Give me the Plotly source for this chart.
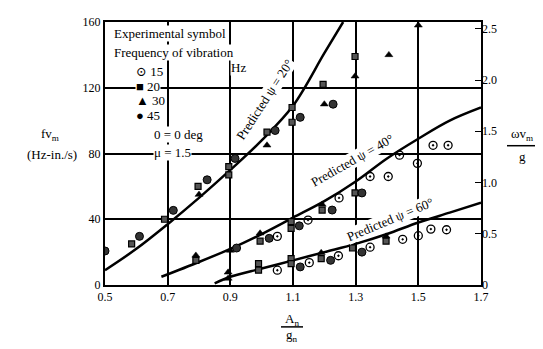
import plotly.graph_objects as go

# Predicted curves
psi20_x = [0.5, 0.6, 0.7, 0.8, 0.9, 1.0, 1.1, 1.2, 1.26]
psi20_y = [9, 22, 37, 53, 70, 88, 109, 141, 160]
psi40_x = [0.68, 0.8, 0.9, 1.0, 1.1, 1.2, 1.3, 1.4, 1.5, 1.6, 1.7]
psi40_y = [5, 14, 22, 31, 41, 51, 63, 77, 89, 100, 108]
psi60_x = [0.85, 0.9, 1.0, 1.1, 1.2, 1.3, 1.4, 1.5, 1.6, 1.7]
psi60_y = [1, 5, 10, 15, 20, 25, 31, 38, 44, 50]

# Experimental points
hz15_x = [1.05, 1.148, 1.247, 1.346, 1.404, 1.44, 1.497, 1.547, 1.595,
          1.05, 1.152, 1.245, 1.346, 1.45, 1.5, 1.54, 1.59]
hz15_y = [29.6, 39.5, 53, 66, 66, 79, 74, 85, 85,
          9, 13.6, 17.8, 23, 27.8, 30, 34, 33.6]
hz20_x = [0.585, 0.69, 0.797, 0.895, 0.895, 1.017, 1.097, 1.097, 1.196, 1.298,
          0.79, 0.995, 1.094, 1.094, 1.193, 1.298,
          0.99, 0.99, 1.094, 1.094, 1.19, 1.29, 1.397]
hz20_y = [25, 40, 60, 72, 67, 93, 108, 99, 122, 139,
          15, 26.7, 38.5, 34.5, 45.6, 56,
          13, 9, 16, 13, 16, 22.5, 26.7]
hz30_x = [0.80, 1.017, 1.2, 1.298, 1.406, 1.5,
          0.79, 0.9, 0.995, 1.193,
          0.893, 0.893, 1.19, 1.397]
hz30_y = [55, 85, 110, 127, 140, 158,
          18, 21, 31.5, 49,
          7.7, 4, 19.6, 29.6]
hz45_x = [0.5, 0.61, 0.718, 0.826, 0.915, 1.043, 1.123, 1.228,
          0.92, 1.024, 1.12, 1.225, 1.32,
          1.123, 1.22, 1.32]
hz45_y = [20.7, 29.6, 45.4, 64, 77, 94, 102, 110,
          22.5, 28.4, 36, 45.6, 56,
          11, 15, 20]

x_ticks = [0.5, 0.7, 0.9, 1.1, 1.3, 1.5, 1.7]
y_ticks = [0, 40, 80, 120, 160]
y2_ticks = [0, 0.5, 1.0, 1.5, 2.0, 2.5]
y2_labels = ["0", "0.5", "1.0", "1.5", "2.0", "2.5"]
legend_labels = ["15", "20", "30", "45"]
legend_glyphs = ["⊙", "■", "▲", "●"]

FONT = "Liberation Serif, Times New Roman, DejaVu Serif, serif"
fig = go.Figure()

for xs, ys in [(psi20_x, psi20_y), (psi40_x, psi40_y), (psi60_x, psi60_y)]:
    fig.add_trace(go.Scatter(x=xs, y=ys, mode="lines", line=dict(color="black", width=2.5, shape="spline"),
                             showlegend=False, hoverinfo="skip"))

fig.add_trace(go.Scatter(x=hz15_x, y=hz15_y, mode="markers", name="15", showlegend=False,
                         marker=dict(symbol="circle-open-dot", size=8, color="black", line=dict(width=1.3, color="black"))))
fig.add_trace(go.Scatter(x=hz20_x, y=hz20_y, mode="markers", name="20", showlegend=False,
                         marker=dict(symbol="square", size=6, color="#555", line=dict(width=1.2, color="black"))))
fig.add_trace(go.Scatter(x=hz30_x, y=hz30_y, mode="markers", name="30", showlegend=False,
                         marker=dict(symbol="triangle-up", size=7, color="black", line=dict(width=0.5, color="black"))))
fig.add_trace(go.Scatter(x=hz45_x, y=hz45_y, mode="markers", name="45", showlegend=False,
                         marker=dict(symbol="circle", size=8, color="#333", line=dict(width=1, color="black"))))
# invisible trace for right axis
fig.add_trace(go.Scatter(x=[0.5], y=[0], yaxis="y2", mode="markers", marker=dict(opacity=0),
                         showlegend=False, hoverinfo="skip"))

# Plot area in page pixels: x 105..481, y 15..285
def px2paper(px, py):
    return (px - 105) / 376, (285 - py) / 270

ann = []
def text(px, py, t, size=13, xanchor="center", angle=0, bg="white"):
    x, y = px2paper(px, py)
    d = dict(x=x, y=y, xref="paper", yref="paper", text=t, showarrow=False, xanchor=xanchor,
             yanchor="middle", textangle=angle, borderpad=0,
             font=dict(family=FONT, size=size, color="black"))
    if bg:
        d["bgcolor"] = bg
    ann.append(d)

text(113, 27, "Experimental symbol", xanchor="left")
text(113, 46, "Frequency of vibration", xanchor="left")
text(238, 62, "Hz")
for i, (g, lab) in enumerate(zip(legend_glyphs, legend_labels)):
    text(135, 66 + 15 * i, g + " " + lab, xanchor="left")
text(153, 130, "0 = 0 deg", xanchor="left")
text(153, 149, "μ = 1.5", xanchor="left")
text(265, 95, "Predicted ψ = 20°", angle=-57)
text(352, 157, "Predicted ψ = 40°", angle=-29.5)
text(390, 218, "Predicted ψ = 60°", angle=-22.7)
# axis titles
text(50, 130, "fv<sub>m</sub>", bg=None)
text(52, 151, "(Hz-in./s)", bg=None)
text(522, 131, "ωv<sub>m</sub>", bg=None)
text(522, 153, "g", bg=None)
text(292, 320, "A<sub>n</sub>", bg=None)
text(292, 337, "g<sub>n</sub>", bg=None)

shapes = []
for (ax0, ax1, ay) in [(507, 538, 142), (281, 303, 328)]:
    x0, y0 = px2paper(ax0, ay)
    x1, _ = px2paper(ax1, ay)
    shapes.append(dict(type="line", xref="paper", yref="paper", x0=x0, x1=x1, y0=y0, y1=y0,
                       line=dict(color="black", width=1.5)))

fig.update_layout(
    width=535, height=341,
    margin=dict(l=97, r=62, t=7, b=64),
    plot_bgcolor="white", paper_bgcolor="white",
    font=dict(family=FONT, size=12, color="black"),
    xaxis=dict(range=[0.5, 1.7], tickvals=x_ticks, ticktext=[f"{v:.1f}" for v in x_ticks],
               showgrid=True, gridcolor="black", gridwidth=1.5, showline=True, linecolor="black",
               linewidth=2, mirror=True, zeroline=False, ticks="", tickfont=dict(family=FONT, size=12)),
    yaxis=dict(range=[0, 160], tickvals=y_ticks, showgrid=True, gridcolor="black", gridwidth=1.5,
               showline=True, linecolor="black", linewidth=2, mirror=True, zeroline=False, ticks="",
               tickfont=dict(family=FONT, size=12)),
    yaxis2=dict(range=[0, 2.566], overlaying="y", side="right", tickvals=y2_ticks, ticktext=y2_labels,
                showgrid=False, zeroline=False, ticks="inside", ticklen=6, tickcolor="black",
                tickfont=dict(family=FONT, size=12)),
    showlegend=False,
    annotations=ann,
    shapes=shapes,
)

fig.write_html("out.html")
